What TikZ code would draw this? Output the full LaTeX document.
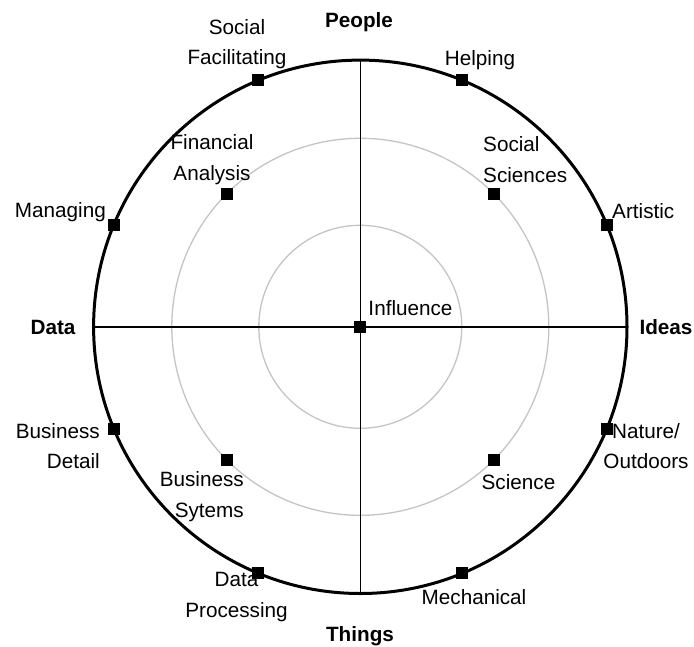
\documentclass[tikz,border=0pt]{standalone}
\usepackage{fontspec}
\setmainfont{Liberation Sans}
\usetikzlibrary{positioning}

\begin{document}
\begin{tikzpicture}[x=1pt, y=-1pt]
	% ----- Styles -----
	\tikzset{
		marker/.style={rectangle, fill=black, inner sep=0pt, minimum size=12pt},
		tag/.style={inner sep=0pt, align=center, font=\fontsize{20.7}{30.5}\selectfont},
		axistag/.style={tag, font=\fontsize{20.7}{30.5}\selectfont\bfseries},
		ring/.style={draw=black!23, line width=1.3pt},
		rim/.style={draw=black, line width=3pt},
		axis/.style={draw=black, line width=1.6pt}
	}
	\useasboundingbox (0,0) rectangle (694,646);
	% ----- Circles and axes -----
	\coordinate (c) at (360.3,326.8);
	\coordinate (top) at (360.3,60.1);
	\coordinate (bottom) at (360.3,593.5);
	\coordinate (left) at (93.6,326.8);
	\coordinate (right) at (627,326.8);
	\draw[ring] (c) circle[radius=101.5pt];
	\draw[ring] (c) circle[radius=188.5pt];
	\draw[axis] (top) -- (bottom);
	\draw[axis] (left) -- (right);
	\draw[rim] (c) circle[radius=266.7pt];
	% ----- Markers -----
	\node[marker] (helping)    at (462.4,80.4)  {};
	\node[marker] (socfac)     at (258.2,80.4)  {};
	\node[marker] (managing)   at (113.9,224.7) {};
	\node[marker] (artistic)   at (606.7,224.7) {};
	\node[marker] (busdetail)  at (113.9,428.9) {};
	\node[marker] (nature)     at (606.7,428.9) {};
	\node[marker] (dataproc)   at (258.2,573.2) {};
	\node[marker] (mechanical) at (462.4,573.2) {};
	\node[marker] (finan)      at (227,193.5)   {};
	\node[marker] (socsci)     at (493.6,193.5) {};
	\node[marker] (bussys)     at (227,460.1)   {};
	\node[marker] (science)    at (493.6,460.1) {};
	\node[marker] (influence)  at (c)           {};
	% ----- Axis labels -----
	\node[axistag] (people) at (359,22)  {People};
	\node[axistag] (things) at (360,636) {Things};
	\node[axistag] (data)   at (53,327)  {Data};
	\node[axistag] (ideas)  at (666,327) {Ideas};
	% ----- Labels -----
	\node[tag] (helpingtxt)    at (480,60)    {Helping};
	\node[tag] (socfactxt)     at (237,44)    {Social\\Facilitating};
	\node[tag, anchor=east] (managingtxt) at (106,212) {Managing};
	\node[tag, anchor=west] (artistictxt) at (612,211) {Artistic};
	\node[tag, anchor=east, align=right] (busdetailtxt) at (100,446) {Business\\Detail};
	\node[tag] (naturetxt)     at (646,446)   {Nature/\\Outdoors};
	\node[tag] (dataproctxt)   at (236.5,597) {Data\\Processing};
	\node[tag] (mechanicaltxt) at (474,597)   {Mechanical};
	\node[tag] (finantxt)      at (212,159.5) {Financial\\Analysis};
	\node[tag, anchor=west, align=left] (socscitxt) at (483,159.5) {Social\\Sciences};
	\node[tag, anchor=east, align=right] (bussystxt) at (244,496.5) {Business\\Sytems};
	\node[tag] (sciencetxt)    at (518.5,482) {Science};
	\node[tag] (influencetxt)  at (410.5,308) {Influence};
\end{tikzpicture}
\end{document}
